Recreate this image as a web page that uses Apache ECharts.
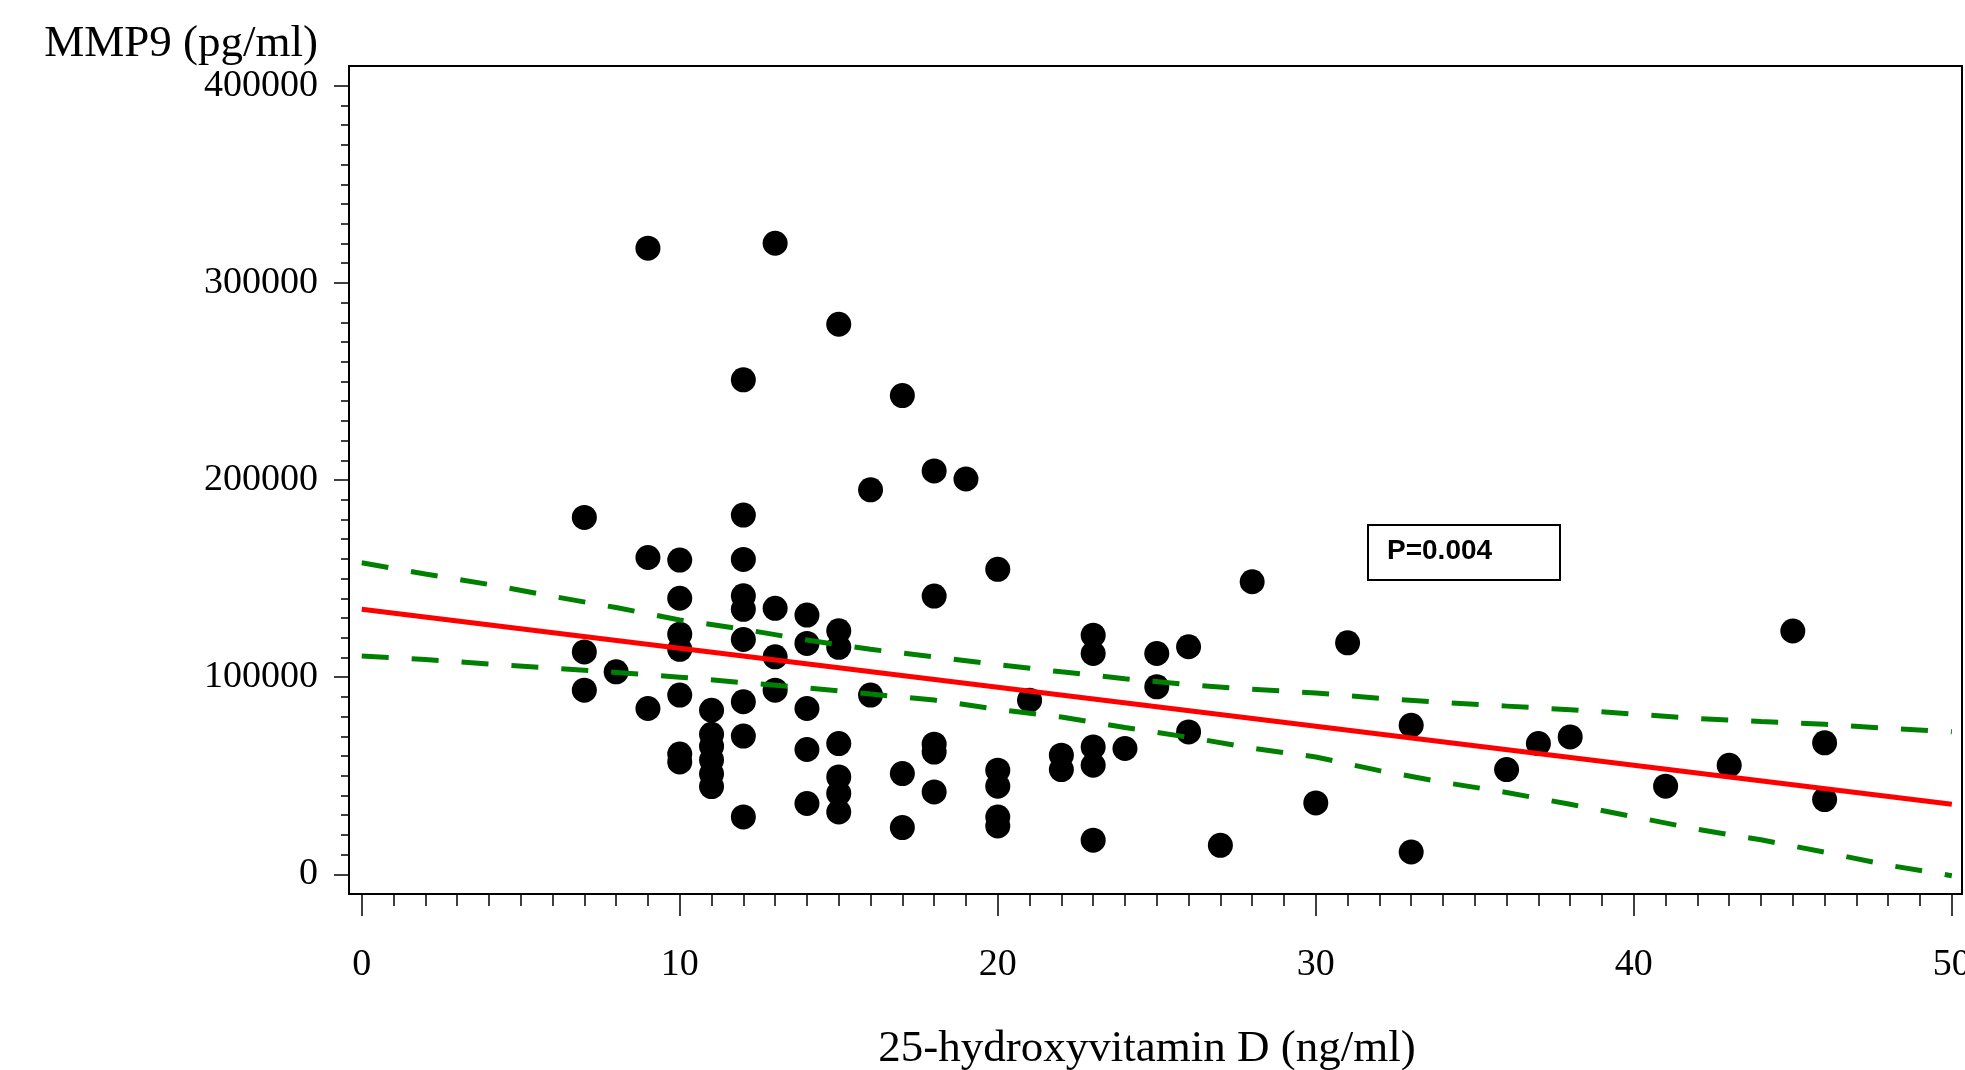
<!DOCTYPE html>
<html>
<head>
<meta charset="utf-8">
<script src="https://cdn.jsdelivr.net/npm/echarts@6/dist/echarts.min.js"></script>
<style>html,body{margin:0;padding:0;background:#fff}#c{width:1965px;height:1070px}</style>
</head>
<body>
<div id="c"></div>
<script>
// 25-hydroxyvitamin D (ng/ml)
const vitD = [
  7, 7, 7,
  8,
  9, 9, 9,
  10, 10, 10, 10, 10, 10, 10,
  11, 11, 11, 11, 11, 11,
  12, 12, 12, 12, 12, 12, 12, 12, 12,
  13, 13, 13, 13,
  14, 14, 14, 14, 14,
  15, 15, 15, 15, 15, 15, 15,
  16, 16,
  17, 17, 17,
  18, 18, 18, 18, 18,
  19,
  20, 20, 20, 20, 20,
  21,
  22, 22,
  23, 23, 23, 23, 23,
  24,
  25, 25,
  26, 26,
  27,
  28,
  30,
  31,
  33, 33,
  36,
  37,
  38,
  41,
  43,
  45,
  46, 46
];
// MMP9 (pg/ml)
const mmp9 = [
  181000, 112800, 93400,
  102700,
  317600, 160700, 84100,
  159400, 140000, 121800, 114100, 90900, 61000, 57000,
  83200, 71000, 65000, 58000, 51000, 44500,
  250800, 182200, 159700, 141300, 134400, 119100, 87500, 70100, 29100,
  320100, 134900, 110300, 93400,
  131500, 117100, 84100, 63300, 35900,
  279000, 123500, 115100, 66300, 49400, 41000, 31600,
  195000, 90900,
  242800, 51100, 23700,
  204600, 141100, 66000, 62000, 41800,
  200500,
  154700, 52800, 44700, 29000, 24500,
  88300,
  60400, 53100,
  121300, 112000, 64600, 55300, 17300,
  63800,
  112000, 95100,
  115400, 72200,
  14700,
  148400,
  36200,
  117400,
  75600, 11300,
  53100,
  66300,
  69700,
  44700,
  55300,
  123400,
  66700, 37900
];
// regression line end points
const fitX = [0, 50];
const fitY = [134400, 35500];
// confidence band
const bandX = [0, 2, 4, 6, 8, 10, 12, 14, 16, 18, 20, 22, 24, 26, 28, 30, 32, 34, 36, 38, 40, 42, 44, 46, 48, 50];
const upperBand = [158000, 152300, 147000, 141000, 135300, 129000, 124300, 118800, 114100, 110300, 106300, 102700, 99200, 96200, 93800, 92000, 89300, 87100, 85300, 83500, 81300, 79000, 77500, 76100, 74000, 72300];
const lowerBand = [110700, 109000, 106600, 104500, 102400, 100000, 97200, 94600, 91400, 88400, 83600, 79800, 74500, 69500, 64000, 59500, 52600, 46700, 41500, 35500, 29200, 22800, 17500, 11200, 4600, -700];
// tick labels
const xTickLabels = [0, 10, 20, 30, 40, 50];
const yTickLabels = [0, 100000, 200000, 300000, 400000];
const pText = 'P=0.004';

const xMinor = []; for (let v = 0; v <= 50; v += 1) xMinor.push(v);
const yMinor = []; for (let v = 0; v <= 400000; v += 10000) yMinor.push(v);

const serif = '"Liberation Serif", "Times New Roman", serif';
const XMIN = -0.4, XMAX = 50.32, YMIN = -10000, YMAX = 410000;

const chart = echarts.init(document.getElementById('c'), null, {renderer: 'canvas'});
chart.setOption({
  animation: false,
  backgroundColor: '#fff',
  grid: {left: 349, right: 3, top: 66, bottom: 176, show: true, borderColor: '#000', borderWidth: 2, backgroundColor: 'transparent', containLabel: false, outerBoundsMode: 'none'},
  xAxis: [{
    type: 'value', min: XMIN, max: XMAX, position: 'bottom',
    axisLine: {show: true, onZero: false, lineStyle: {color: '#000', width: 2}},
    axisTick: {show: true, length: 22, customValues: xTickLabels, lineStyle: {color: '#000', width: 1.5}},
    axisLabel: {show: true, customValues: xTickLabels, margin: 52, fontFamily: serif, fontSize: 38, color: '#000', formatter: v => String(v)},
    splitLine: {show: false},
    name: '25-hydroxyvitamin D (ng/ml)', nameLocation: 'middle', nameGap: 133,
    nameTextStyle: {fontFamily: serif, fontSize: 45, color: '#000', padding: [0, 17, 0, 0]}
  }, {
    type: 'value', min: XMIN, max: XMAX, position: 'bottom',
    axisLine: {show: false, onZero: false},
    axisTick: {show: true, length: 12, customValues: xMinor, lineStyle: {color: '#000', width: 1.5}},
    axisLabel: {show: false},
    splitLine: {show: false}
  }],
  yAxis: [{
    type: 'value', min: YMIN, max: YMAX, position: 'left',
    axisLine: {show: true, onZero: false, lineStyle: {color: '#000', width: 2}},
    axisTick: {show: true, length: 15, customValues: yTickLabels, lineStyle: {color: '#000', width: 1.5}},
    axisLabel: {show: true, customValues: yTickLabels, margin: 31, fontFamily: serif, fontSize: 38, color: '#000', formatter: v => String(v), verticalAlign: 'middle', padding: [12, 0, 0, 0]},
    splitLine: {show: false},
    name: 'MMP9 (pg/ml)', nameLocation: 'end', nameGap: 20,
    nameTextStyle: {fontFamily: serif, fontSize: 45, color: '#000', align: 'right', verticalAlign: 'middle', padding: [0, 31, 0, 0]}
  }, {
    type: 'value', min: YMIN, max: YMAX, position: 'left',
    axisLine: {show: false, onZero: false},
    axisTick: {show: true, length: 8, customValues: yMinor, lineStyle: {color: '#000', width: 1.5}},
    axisLabel: {show: false},
    splitLine: {show: false}
  }],
  series: [{
    type: 'scatter', xAxisIndex: 0, yAxisIndex: 0,
    data: vitD.map((x, i) => [x, mmp9[i]]),
    symbol: 'circle', symbolSize: 25,
    itemStyle: {color: '#000', opacity: 1},
    z: 2
  }, {
    type: 'line', xAxisIndex: 0, yAxisIndex: 0,
    data: bandX.map((x, i) => [x, upperBand[i]]),
    showSymbol: false, symbol: 'none',
    lineStyle: {color: '#008000', width: 5, type: [27, 23]},
    z: 3
  }, {
    type: 'line', xAxisIndex: 0, yAxisIndex: 0,
    data: bandX.map((x, i) => [x, lowerBand[i]]),
    showSymbol: false, symbol: 'none',
    lineStyle: {color: '#008000', width: 5, type: [27, 23]},
    z: 3
  }, {
    type: 'line', xAxisIndex: 0, yAxisIndex: 0,
    data: fitX.map((x, i) => [x, fitY[i]]),
    showSymbol: false, symbol: 'none',
    lineStyle: {color: '#ff0000', width: 5},
    z: 4
  }],
  graphic: [{
    type: 'rect', left: 1367, top: 524, z: 10,
    shape: {width: 192, height: 55},
    style: {fill: '#fff', stroke: '#000', lineWidth: 2}
  }, {
    type: 'text', left: 1387, top: 537, z: 11,
    style: {text: pText, fill: '#000', font: 'bold 28px "Liberation Sans", Arial, sans-serif'}
  }]
});
</script>
</body>
</html>
